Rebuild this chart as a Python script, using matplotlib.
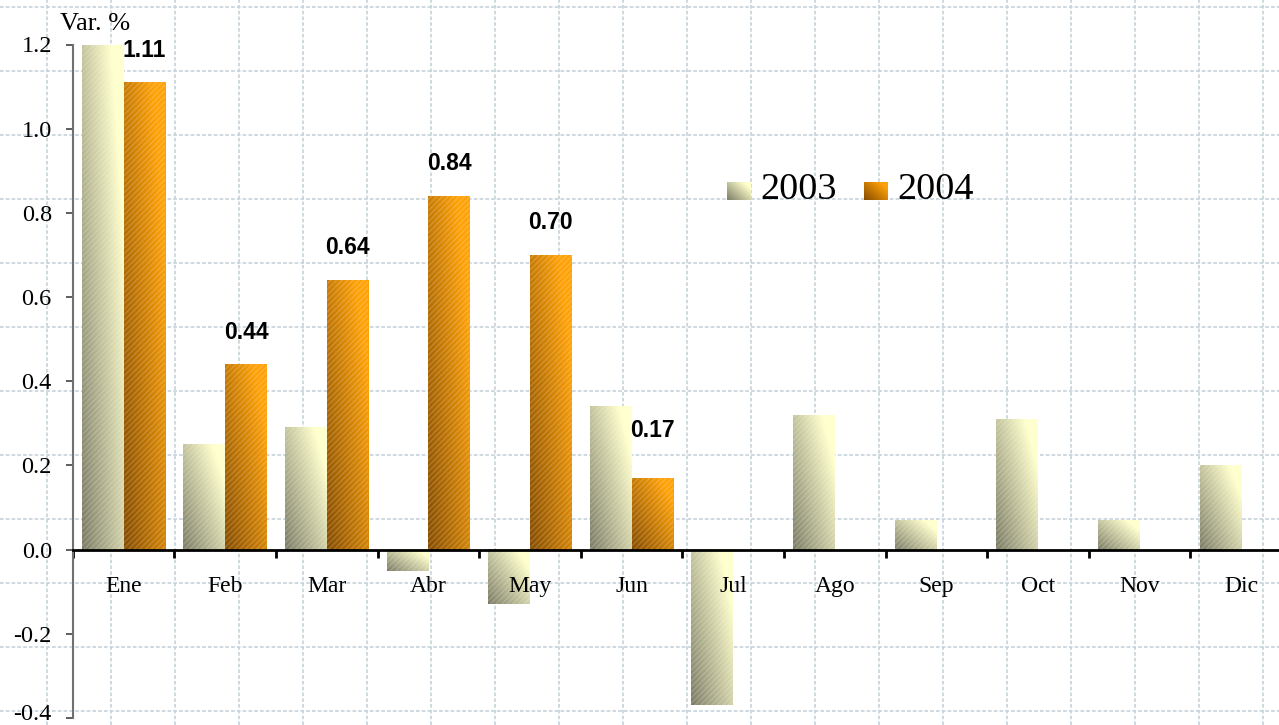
import numpy as np
import matplotlib
matplotlib.use("Agg")
import matplotlib.pyplot as plt
from matplotlib.lines import Line2D
from matplotlib.transforms import ScaledTranslation

# ---------------- data ----------------
months = ["Ene", "Feb", "Mar", "Abr", "May", "Jun", "Jul", "Ago", "Sep", "Oct", "Nov", "Dic"]
v2003 = [1.20, 0.25, 0.29, -0.05, -0.13, 0.34, -0.37, 0.32, 0.07, 0.31, 0.07, 0.20]
v2004 = [1.11, 0.44, 0.64, 0.84, 0.70, 0.17]
labels2004 = ["1.11", "0.44", "0.64", "0.84", "0.70", "0.17"]
series_names = ["2003", "2004"]
yticks = [-0.4, -0.2, 0.0, 0.2, 0.4, 0.6, 0.8, 1.0, 1.2]
ytick_labels = ["-0.4", "-0.2", "0.0", "0.2", "0.4", "0.6", "0.8", "1.0", "1.2"]
ylabel_text = "Var. %"

# ---------------- style ----------------
W, H, DPI = 1279, 725, 100
SERIF = ["Liberation Serif", "DejaVu Serif"]
SANS = ["Liberation Sans", "DejaVu Sans"]
C2003 = (np.array([0x7c, 0x7c, 0x66]) / 255, np.array([0xff, 0xff, 0xcc]) / 255)
C2004 = (np.array([0x85, 0x4c, 0x00]) / 255, np.array([0xff, 0xa2, 0x08]) / 255)
GRID_C = "#c9d5dd"


def grad_img(c0, c1, n=80):
    x = np.linspace(0, 1, n)
    X, Y = np.meshgrid(x, x)
    t = np.clip(0.65 * X + 0.55 * Y, 0, 1)[..., None]
    return c0 * (1 - t) + c1 * t


fig = plt.figure(figsize=(W / DPI, H / DPI), dpi=DPI)

# background slide grid (figure pixels)
for gx in np.arange(47, W, 64):
    fig.add_artist(Line2D([gx / W, gx / W], [0, 1], transform=fig.transFigure,
                          color=GRID_C, lw=1.3, ls=(0, (2.0, 1.2)), zorder=0))
for gy in np.arange(6.7, H, 64):
    fig.add_artist(Line2D([0, 1], [1 - gy / H, 1 - gy / H], transform=fig.transFigure,
                          color=GRID_C, lw=1.3, ls=(0, (2.0, 1.2)), zorder=0))

# axes
x_left, x_right = 72.7, 1292.0
y_top, y_bot = 44.5, 718.0
ax = fig.add_axes([x_left / W, 1 - y_bot / H, (x_right - x_left) / W, (y_bot - y_top) / H])
ax.set_zorder(1)
ax.patch.set_visible(False)

x = np.arange(len(months))
bw = 0.41
b03 = ax.bar(x - 0.205, v2003, bw, facecolor="none", edgecolor="none", zorder=1)
x04 = np.arange(len(v2004))
b04 = ax.bar(x04 + 0.205, v2004, bw, facecolor="none", edgecolor="none", zorder=1)

for bars, cols in ((b03, C2003), (b04, C2004)):
    img = grad_img(*cols)
    for r in bars:
        x0, y0, w, h = r.get_x(), r.get_y(), r.get_width(), r.get_height()
        ax.imshow(img, extent=[x0, x0 + w, min(y0, y0 + h), max(y0, y0 + h)],
                  origin="lower", aspect="auto", interpolation="bilinear", zorder=1)
        # fine texture
        ax.add_patch(plt.Rectangle((x0, y0), w, h, facecolor="none",
                                   edgecolor=(1, 1, 1, 0.18), lw=0, hatch="//////", zorder=1.2))

# value labels for 2004
for i, (r, lab) in enumerate(zip(b04, labels2004)):
    off = 26 if i == 5 else 15
    ax.annotate(lab, (r.get_x() + r.get_width() / 2, r.get_height()),
                xytext=(0, off), textcoords="offset points", ha="center", va="bottom",
                fontsize=16.5, fontweight="bold", family=SANS, color="black", zorder=5)

ax.set_xlim(-0.5, 11.5)
ax.set_ylim(-0.4, 1.2)

# spines
for s in ("top", "right"):
    ax.spines[s].set_visible(False)
ax.spines["bottom"].set_position(("data", 0))
ax.spines["bottom"].set_color("black")
ax.spines["bottom"].set_linewidth(2)
ax.spines["bottom"].set_zorder(3)
ax.spines["left"].set_color("#707070")
ax.spines["left"].set_linewidth(1.5)

ax.set_yticks(yticks)
ax.set_yticklabels(ytick_labels, family=SERIF, fontsize=17.5)
ax.tick_params(axis="y", direction="out", length=5, width=1.3, color="#505050", pad=10)
# nudge the lowest label a little so it stays inside the picture
low = ax.get_yticklabels()[0]
low.set_transform(low.get_transform() + ScaledTranslation(0, 4 / 72, fig.dpi_scale_trans))

ax.set_xticks(x)
ax.set_xticklabels(months, family=SERIF, fontsize=17)
ax.set_xticks(np.arange(-0.5, 12, 1), minor=True)
ax.tick_params(axis="x", which="major", length=0, pad=19)
ax.tick_params(axis="x", which="minor", length=6, width=2, color="black", direction="out")

# axis title
fig.text(60 / W, 1 - 24 / H, ylabel_text, family=SERIF, fontsize=19, va="center", ha="left")

# legend (manual)
for name, cols, sx, tx in ((series_names[0], C2003, 727, 760), (series_names[1], C2004, 864, 897)):
    la = fig.add_axes([sx / W, 1 - 200 / H, 24 / W, 18 / H])
    la.imshow(grad_img(*cols), origin="lower", aspect="auto", interpolation="bilinear")
    la.axis("off")
    fig.text(tx / W, 1 - 190 / H, name, family=SERIF, fontsize=27.5, va="center", ha="left")

fig.savefig("out.png", dpi=DPI)
